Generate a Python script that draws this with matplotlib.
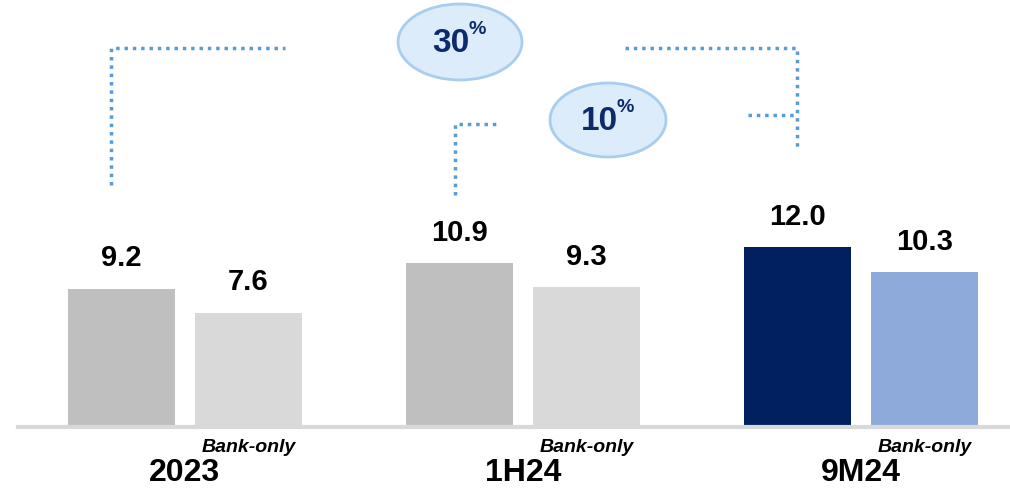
import matplotlib.pyplot as plt
from matplotlib.patches import Ellipse

# Data
periods = ["2023", "1H24", "9M24"]
group_vals = [9.2, 10.9, 12.0]
bank_vals = [7.6, 9.3, 10.3]
sub_label = "Bank-only"
growth_labels = ["30", "10"]

group_colors = ["#bfbfbf", "#bfbfbf", "#002060"]
bank_colors = ["#d9d9d9", "#d9d9d9", "#8eaadb"]
navy = "#0d2a6b"
dot_blue = "#5b9bd5"

plt.rcParams['font.family'] = ['Liberation Sans Narrow', 'Liberation Sans', 'DejaVu Sans']

fig = plt.figure(figsize=(10.1, 4.88), dpi=100)
ax = fig.add_axes([0, 0, 1, 1])
ax.set_xlim(-0.547, 2.441)
ax.set_ylim(-4.07, 28.47)
ax.axis("off")

x = list(range(len(periods)))
w = 0.317
off = 0.188

b1 = ax.bar([i - off for i in x], group_vals, w, color=group_colors)
b2 = ax.bar([i + off for i in x], bank_vals, w, color=bank_colors)

for bars, vals in [(b1, group_vals), (b2, bank_vals)]:
    for r, v in zip(bars, vals):
        ax.text(r.get_x() + r.get_width() / 2, v + 1.1, f"{v:.1f}",
                ha="center", va="bottom", fontsize=21, fontweight="bold", color="black")

# baseline
ax.axhline(0, xmin=18 / 1010, xmax=1, color="#d9d9d9", lw=3)

for i, p in enumerate(periods):
    ax.text(i + 0.188, -1.35, sub_label, ha="center", va="center",
            fontsize=14, fontweight="bold", style="italic")
    ax.text(i, -3.05, p, ha="center", va="center", fontsize=23, fontweight="bold")

# overlay in pixel coordinates for the growth brackets
ov = fig.add_axes([0, 0, 1, 1])
ov.set_xlim(0, 1010)
ov.set_ylim(488, 0)
ov.axis("off")
ov.patch.set_alpha(0)

lk = dict(color=dot_blue, lw=2.5, ls=(0, (1, 1.4)))
ov.plot([111, 111, 285], [185, 48, 48], **lk)
ov.plot([625, 797, 797], [48, 48, 148], **lk)
ov.plot([748, 797], [115, 115], **lk)
ov.plot([455, 455, 500], [195, 124, 124], **lk)

for (cx, cy, ew, eh), lab in zip([(460, 42, 124, 76), (608, 120, 116, 74)], growth_labels):
    ov.add_patch(Ellipse((cx, cy), ew, eh, facecolor="#dcecfb", edgecolor="#a9cdee", lw=2))
    ov.text(cx - 9, cy + 1, lab, ha="center", va="center", fontsize=24,
            fontweight="bold", color=navy)
    ov.text(cx + 17, cy - 13, "%", ha="center", va="center", fontsize=14,
            fontweight="bold", color=navy)

fig.savefig("out.png", dpi=100)
